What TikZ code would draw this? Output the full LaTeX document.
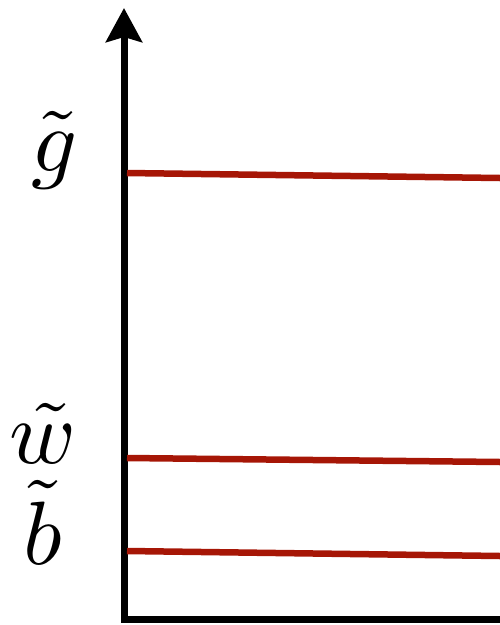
\documentclass[tikz,border=0pt]{standalone}
\usetikzlibrary{arrows.meta}
\definecolor{linered}{RGB}{166,22,6}
\tikzset{
  axisline/.style={line width=7pt, black, -{Stealth[length=34pt,width=36pt,inset=5pt]}},
  levelline/.style={line width=6.5pt, linered},
  lbl/.style={inner sep=0pt, anchor=base, scale=9}
}
\begin{document}
\begin{tikzpicture}[x=1pt,y=-1pt]
\useasboundingbox (0,0) rectangle (500,625);
\coordinate (xend) at (500,619);
\coordinate (origin) at (124,619);
\coordinate (ytop) at (124,8);
\draw[axisline] (xend) -- (origin) -- (ytop);
\coordinate (g0) at (127,173);
\coordinate (g1) at (500,178);
\coordinate (w0) at (127,458);
\coordinate (w1) at (500,462);
\coordinate (b0) at (127,551);
\coordinate (b1) at (500,556);
\draw[levelline] (g0) -- (g1);
\draw[levelline] (w0) -- (w1);
\draw[levelline] (b0) -- (b1);
\node[lbl] (gl) at (55,171) {$\tilde{g}$};
\node[lbl] (wl) at (43,463) {$\tilde{w}$};
\node[lbl] (bl) at (43,564) {$\tilde{b}$};
\end{tikzpicture}
\end{document}
